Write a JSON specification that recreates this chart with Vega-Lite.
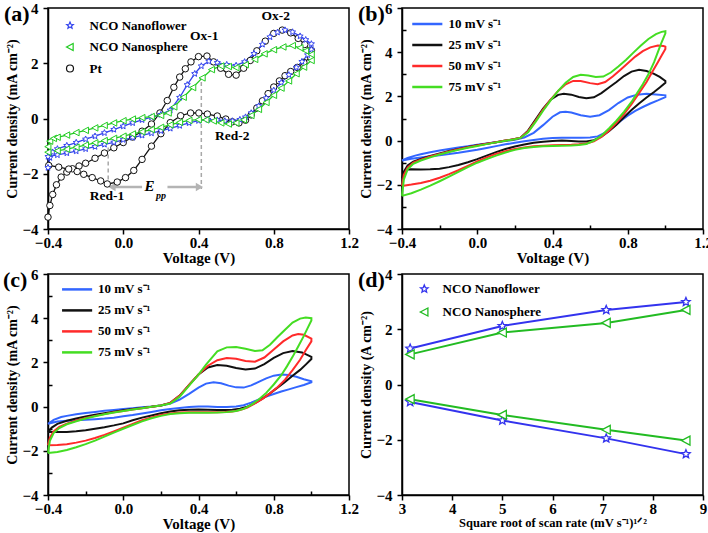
{
"$schema": "https://vega.github.io/schema/vega-lite/v6.json",
"background": "white",
"padding": {"left": 2, "top": 0, "right": 0, "bottom": 0},
"config": {
  "font": "Liberation Serif",
  "view": {"stroke": "black", "strokeWidth": 1.5},
  "axis": {"labelFont": "Liberation Serif", "labelFontSize": 15, "labelFontWeight": "bold", "labelColor": "black", "titleFont": "Liberation Serif", "titleFontSize": 15, "titleFontWeight": "bold", "titleColor": "black", "domainColor": "black", "domainWidth": 1.5, "tickColor": "black", "tickWidth": 1.5, "grid": false, "labelPadding": 1, "labelFlush": false, "labelOverlap": false, "labelBound": false, "titlePadding": 0},
  "axisY": {"labelPadding": 5, "titleFontSize": 14, "titlePadding": 2},
  "legend": {"labelFont": "Liberation Serif", "labelFontSize": 13, "labelFontWeight": "bold", "labelColor": "black"}
},
"resolve": {"scale": {"color": "independent", "shape": "independent"}, "legend": {"color": "independent", "shape": "independent"}},
"datasets": {
"a": [
{"s":"P","v":-0.4,"i":-3.57},{"s":"P","v":-0.39,"i":-3.15},{"s":"P","v":-0.375,"i":-2.75},{"s":"P","v":-0.355,"i":-2.4},{"s":"P","v":-0.33,"i":-2.12},{"s":"P","v":-0.3,"i":-1.94},{"s":"P","v":-0.27,"i":-1.82},{"s":"P","v":-0.235,"i":-1.72},{"s":"P","v":-0.2,"i":-1.62},{"s":"P","v":-0.15,"i":-1.44},{"s":"P","v":-0.1,"i":-1.25},{"s":"P","v":-0.05,"i":-1.06},{"s":"P","v":0,"i":-0.87},{"s":"P","v":0.05,"i":-0.67},{"s":"P","v":0.1,"i":-0.46},{"s":"P","v":0.15,"i":-0.2},{"s":"P","v":0.195,"i":0.2},{"s":"P","v":0.234,"i":0.65},{"s":"P","v":0.269,"i":1.13},{"s":"P","v":0.3,"i":1.5},{"s":"P","v":0.33,"i":1.8},{"s":"P","v":0.36,"i":2.05},{"s":"P","v":0.4,"i":2.24},{"s":"P","v":0.445,"i":2.26},{"s":"P","v":0.48,"i":2.05},{"s":"P","v":0.518,"i":1.82},{"s":"P","v":0.56,"i":1.6},{"s":"P","v":0.6,"i":1.57},{"s":"P","v":0.64,"i":1.82},{"s":"P","v":0.675,"i":2.1},{"s":"P","v":0.71,"i":2.45},{"s":"P","v":0.755,"i":2.8},{"s":"P","v":0.8,"i":3.08},{"s":"P","v":0.845,"i":3.2},{"s":"P","v":0.89,"i":3.1},{"s":"P","v":0.93,"i":2.9},{"s":"P","v":0.965,"i":2.68},{"s":"P","v":1.0,"i":2.46},
{"s":"P","v":0.996,"i":2.22},{"s":"P","v":0.96,"i":2.03},{"s":"P","v":0.925,"i":1.85},{"s":"P","v":0.89,"i":1.7},{"s":"P","v":0.86,"i":1.55},{"s":"P","v":0.83,"i":1.36},{"s":"P","v":0.8,"i":1.14},{"s":"P","v":0.77,"i":0.9},{"s":"P","v":0.74,"i":0.64},{"s":"P","v":0.71,"i":0.38},{"s":"P","v":0.68,"i":0.13},{"s":"P","v":0.65,"i":-0.06},{"s":"P","v":0.615,"i":-0.16},{"s":"P","v":0.58,"i":-0.12},{"s":"P","v":0.545,"i":-0.02},{"s":"P","v":0.5,"i":0.09},{"s":"P","v":0.447,"i":0.16},{"s":"P","v":0.402,"i":0.2},{"s":"P","v":0.358,"i":0.2},{"s":"P","v":0.305,"i":0.1},{"s":"P","v":0.25,"i":-0.15},{"s":"P","v":0.2,"i":-0.55},{"s":"P","v":0.15,"i":-1.0},{"s":"P","v":0.1,"i":-1.48},{"s":"P","v":0.056,"i":-1.88},{"s":"P","v":0.012,"i":-2.14},{"s":"P","v":-0.032,"i":-2.3},{"s":"P","v":-0.085,"i":-2.37},{"s":"P","v":-0.12,"i":-2.26},{"s":"P","v":-0.165,"i":-2.14},{"s":"P","v":-0.21,"i":-2.02},{"s":"P","v":-0.245,"i":-1.92},{"s":"P","v":-0.29,"i":-1.83},{"s":"P","v":-0.343,"i":-1.76},{"s":"P","v":-0.396,"i":-1.7},
{"s":"F","v":-0.4,"i":-1.78},{"s":"F","v":-0.39,"i":-1.42},{"s":"F","v":-0.375,"i":-1.22},{"s":"F","v":-0.35,"i":-1.1},{"s":"F","v":-0.3,"i":-0.98},{"s":"F","v":-0.25,"i":-0.87},{"s":"F","v":-0.2,"i":-0.75},{"s":"F","v":-0.15,"i":-0.64},{"s":"F","v":-0.1,"i":-0.52},{"s":"F","v":-0.05,"i":-0.4},{"s":"F","v":0,"i":-0.28},{"s":"F","v":0.05,"i":-0.16},{"s":"F","v":0.1,"i":-0.05},{"s":"F","v":0.15,"i":0.05},{"s":"F","v":0.2,"i":0.14},{"s":"F","v":0.25,"i":0.3},{"s":"F","v":0.3,"i":0.76},{"s":"F","v":0.34,"i":1.22},{"s":"F","v":0.38,"i":1.62},{"s":"F","v":0.415,"i":1.9},{"s":"F","v":0.455,"i":2.07},{"s":"F","v":0.5,"i":2.02},{"s":"F","v":0.55,"i":1.95},{"s":"F","v":0.6,"i":1.92},{"s":"F","v":0.645,"i":2.05},{"s":"F","v":0.695,"i":2.35},{"s":"F","v":0.74,"i":2.68},{"s":"F","v":0.78,"i":2.95},{"s":"F","v":0.82,"i":3.12},{"s":"F","v":0.86,"i":3.2},{"s":"F","v":0.9,"i":3.13},{"s":"F","v":0.94,"i":2.98},{"s":"F","v":0.97,"i":2.85},{"s":"F","v":1.0,"i":2.7},
{"s":"F","v":1.0,"i":2.5},{"s":"F","v":0.98,"i":2.3},{"s":"F","v":0.95,"i":2.06},{"s":"F","v":0.92,"i":1.85},{"s":"F","v":0.88,"i":1.58},{"s":"F","v":0.84,"i":1.3},{"s":"F","v":0.8,"i":1.02},{"s":"F","v":0.76,"i":0.74},{"s":"F","v":0.72,"i":0.45},{"s":"F","v":0.68,"i":0.2},{"s":"F","v":0.65,"i":0.05},{"s":"F","v":0.62,"i":-0.04},{"s":"F","v":0.58,"i":-0.09},{"s":"F","v":0.54,"i":-0.09},{"s":"F","v":0.5,"i":-0.06},{"s":"F","v":0.45,"i":-0.04},{"s":"F","v":0.4,"i":-0.08},{"s":"F","v":0.35,"i":-0.16},{"s":"F","v":0.3,"i":-0.26},{"s":"F","v":0.25,"i":-0.36},{"s":"F","v":0.2,"i":-0.45},{"s":"F","v":0.15,"i":-0.53},{"s":"F","v":0.1,"i":-0.61},{"s":"F","v":0.05,"i":-0.69},{"s":"F","v":0,"i":-0.77},{"s":"F","v":-0.05,"i":-0.86},{"s":"F","v":-0.1,"i":-0.94},{"s":"F","v":-0.15,"i":-1.02},{"s":"F","v":-0.2,"i":-1.1},{"s":"F","v":-0.25,"i":-1.18},{"s":"F","v":-0.3,"i":-1.25},{"s":"F","v":-0.35,"i":-1.32},{"s":"F","v":-0.4,"i":-1.38},
{"s":"S","v":-0.4,"i":-1.02},{"s":"S","v":-0.39,"i":-0.82},{"s":"S","v":-0.37,"i":-0.72},{"s":"S","v":-0.35,"i":-0.68},{"s":"S","v":-0.3,"i":-0.6},{"s":"S","v":-0.25,"i":-0.51},{"s":"S","v":-0.2,"i":-0.43},{"s":"S","v":-0.15,"i":-0.34},{"s":"S","v":-0.1,"i":-0.25},{"s":"S","v":-0.05,"i":-0.16},{"s":"S","v":0,"i":-0.08},{"s":"S","v":0.05,"i":-0.02},{"s":"S","v":0.1,"i":0.03},{"s":"S","v":0.15,"i":0.07},{"s":"S","v":0.2,"i":0.11},{"s":"S","v":0.24,"i":0.2},{"s":"S","v":0.27,"i":0.42},{"s":"S","v":0.32,"i":0.77},{"s":"S","v":0.37,"i":1.12},{"s":"S","v":0.42,"i":1.47},{"s":"S","v":0.47,"i":1.77},{"s":"S","v":0.52,"i":1.9},{"s":"S","v":0.56,"i":1.88},{"s":"S","v":0.6,"i":1.84},{"s":"S","v":0.65,"i":1.95},{"s":"S","v":0.7,"i":2.14},{"s":"S","v":0.75,"i":2.34},{"s":"S","v":0.8,"i":2.49},{"s":"S","v":0.85,"i":2.59},{"s":"S","v":0.9,"i":2.64},{"s":"S","v":0.94,"i":2.56},{"s":"S","v":0.97,"i":2.45},{"s":"S","v":1.0,"i":2.32},
{"s":"S","v":1.0,"i":2.1},{"s":"S","v":0.96,"i":1.86},{"s":"S","v":0.92,"i":1.62},{"s":"S","v":0.88,"i":1.36},{"s":"S","v":0.84,"i":1.1},{"s":"S","v":0.8,"i":0.84},{"s":"S","v":0.76,"i":0.58},{"s":"S","v":0.72,"i":0.33},{"s":"S","v":0.68,"i":0.11},{"s":"S","v":0.64,"i":-0.05},{"s":"S","v":0.6,"i":-0.16},{"s":"S","v":0.56,"i":-0.2},{"s":"S","v":0.52,"i":-0.16},{"s":"S","v":0.48,"i":-0.09},{"s":"S","v":0.44,"i":-0.05},{"s":"S","v":0.4,"i":-0.04},{"s":"S","v":0.35,"i":-0.07},{"s":"S","v":0.3,"i":-0.14},{"s":"S","v":0.25,"i":-0.23},{"s":"S","v":0.2,"i":-0.32},{"s":"S","v":0.15,"i":-0.4},{"s":"S","v":0.1,"i":-0.48},{"s":"S","v":0.05,"i":-0.56},{"s":"S","v":0,"i":-0.64},{"s":"S","v":-0.05,"i":-0.72},{"s":"S","v":-0.1,"i":-0.8},{"s":"S","v":-0.15,"i":-0.88},{"s":"S","v":-0.2,"i":-0.96},{"s":"S","v":-0.25,"i":-1.04},{"s":"S","v":-0.3,"i":-1.11},{"s":"S","v":-0.35,"i":-1.17},{"s":"S","v":-0.4,"i":-1.22}
],
"b": [
{"s":"10","v":-0.4,"i":-0.9},{"s":"10","v":-0.37,"i":-0.78},{"s":"10","v":-0.33,"i":-0.68},{"s":"10","v":-0.3,"i":-0.62},{"s":"10","v":-0.25,"i":-0.53},{"s":"10","v":-0.2,"i":-0.45},{"s":"10","v":-0.15,"i":-0.38},{"s":"10","v":-0.1,"i":-0.31},{"s":"10","v":-0.05,"i":-0.25},{"s":"10","v":0,"i":-0.19},{"s":"10","v":0.05,"i":-0.13},{"s":"10","v":0.1,"i":-0.07},{"s":"10","v":0.15,"i":-0.02},{"s":"10","v":0.2,"i":0.04},{"s":"10","v":0.25,"i":0.14},{"s":"10","v":0.3,"i":0.35},{"s":"10","v":0.35,"i":0.7},{"s":"10","v":0.4,"i":1.08},{"s":"10","v":0.44,"i":1.28},{"s":"10","v":0.47,"i":1.31},{"s":"10","v":0.5,"i":1.27},{"s":"10","v":0.55,"i":1.15},{"s":"10","v":0.6,"i":1.08},{"s":"10","v":0.65,"i":1.15},{"s":"10","v":0.7,"i":1.38},{"s":"10","v":0.75,"i":1.7},{"s":"10","v":0.8,"i":1.95},{"s":"10","v":0.85,"i":2.08},{"s":"10","v":0.9,"i":2.12},{"s":"10","v":0.95,"i":2.09},{"s":"10","v":1.0,"i":2.05},
{"s":"10","v":1.0,"i":1.97},{"s":"10","v":0.96,"i":1.82},{"s":"10","v":0.92,"i":1.68},{"s":"10","v":0.88,"i":1.52},{"s":"10","v":0.84,"i":1.34},{"s":"10","v":0.8,"i":1.13},{"s":"10","v":0.76,"i":0.88},{"s":"10","v":0.72,"i":0.6},{"s":"10","v":0.68,"i":0.36},{"s":"10","v":0.64,"i":0.19},{"s":"10","v":0.6,"i":0.14},{"s":"10","v":0.55,"i":0.13},{"s":"10","v":0.5,"i":0.13},{"s":"10","v":0.45,"i":0.13},{"s":"10","v":0.4,"i":0.12},{"s":"10","v":0.35,"i":0.08},{"s":"10","v":0.3,"i":0.03},{"s":"10","v":0.25,"i":-0.03},{"s":"10","v":0.2,"i":-0.1},{"s":"10","v":0.15,"i":-0.17},{"s":"10","v":0.1,"i":-0.25},{"s":"10","v":0.05,"i":-0.33},{"s":"10","v":0,"i":-0.41},{"s":"10","v":-0.05,"i":-0.48},{"s":"10","v":-0.1,"i":-0.55},{"s":"10","v":-0.15,"i":-0.61},{"s":"10","v":-0.2,"i":-0.66},{"s":"10","v":-0.25,"i":-0.71},{"s":"10","v":-0.3,"i":-0.76},{"s":"10","v":-0.35,"i":-0.82},{"s":"10","v":-0.4,"i":-0.9},
{"s":"25","v":-0.4,"i":-1.7},{"s":"25","v":-0.39,"i":-1.4},{"s":"25","v":-0.37,"i":-1.12},{"s":"25","v":-0.34,"i":-0.95},{"s":"25","v":-0.3,"i":-0.83},{"s":"25","v":-0.25,"i":-0.7},{"s":"25","v":-0.2,"i":-0.58},{"s":"25","v":-0.15,"i":-0.47},{"s":"25","v":-0.1,"i":-0.38},{"s":"25","v":-0.05,"i":-0.29},{"s":"25","v":0,"i":-0.21},{"s":"25","v":0.05,"i":-0.14},{"s":"25","v":0.1,"i":-0.07},{"s":"25","v":0.15,"i":0.0},{"s":"25","v":0.2,"i":0.07},{"s":"25","v":0.23,"i":0.13},{"s":"25","v":0.27,"i":0.45},{"s":"25","v":0.31,"i":0.95},{"s":"25","v":0.35,"i":1.45},{"s":"25","v":0.39,"i":1.85},{"s":"25","v":0.43,"i":2.07},{"s":"25","v":0.46,"i":2.12},{"s":"25","v":0.5,"i":2.08},{"s":"25","v":0.54,"i":1.97},{"s":"25","v":0.58,"i":1.92},{"s":"25","v":0.62,"i":1.96},{"s":"25","v":0.66,"i":2.15},{"s":"25","v":0.7,"i":2.4},{"s":"25","v":0.74,"i":2.65},{"s":"25","v":0.78,"i":2.92},{"s":"25","v":0.82,"i":3.12},{"s":"25","v":0.86,"i":3.2},{"s":"25","v":0.9,"i":3.15},{"s":"25","v":0.94,"i":3.02},{"s":"25","v":0.97,"i":2.88},{"s":"25","v":1.0,"i":2.7},
{"s":"25","v":1.0,"i":2.62},{"s":"25","v":0.97,"i":2.4},{"s":"25","v":0.94,"i":2.2},{"s":"25","v":0.9,"i":1.95},{"s":"25","v":0.86,"i":1.68},{"s":"25","v":0.82,"i":1.38},{"s":"25","v":0.78,"i":1.06},{"s":"25","v":0.74,"i":0.72},{"s":"25","v":0.7,"i":0.42},{"s":"25","v":0.66,"i":0.18},{"s":"25","v":0.62,"i":0.02},{"s":"25","v":0.58,"i":-0.04},{"s":"25","v":0.54,"i":-0.04},{"s":"25","v":0.5,"i":-0.02},{"s":"25","v":0.45,"i":0.0},{"s":"25","v":0.4,"i":-0.02},{"s":"25","v":0.35,"i":-0.05},{"s":"25","v":0.3,"i":-0.1},{"s":"25","v":0.25,"i":-0.18},{"s":"25","v":0.2,"i":-0.27},{"s":"25","v":0.15,"i":-0.38},{"s":"25","v":0.1,"i":-0.52},{"s":"25","v":0.05,"i":-0.68},{"s":"25","v":0,"i":-0.84},{"s":"25","v":-0.05,"i":-0.98},{"s":"25","v":-0.1,"i":-1.1},{"s":"25","v":-0.15,"i":-1.2},{"s":"25","v":-0.2,"i":-1.27},{"s":"25","v":-0.25,"i":-1.3},{"s":"25","v":-0.3,"i":-1.31},{"s":"25","v":-0.35,"i":-1.3},{"s":"25","v":-0.38,"i":-1.31},{"s":"25","v":-0.4,"i":-1.7},
{"s":"50","v":-0.4,"i":-2.05},{"s":"50","v":-0.39,"i":-1.55},{"s":"50","v":-0.37,"i":-1.22},{"s":"50","v":-0.34,"i":-1.0},{"s":"50","v":-0.3,"i":-0.86},{"s":"50","v":-0.25,"i":-0.72},{"s":"50","v":-0.2,"i":-0.6},{"s":"50","v":-0.15,"i":-0.49},{"s":"50","v":-0.1,"i":-0.39},{"s":"50","v":-0.05,"i":-0.3},{"s":"50","v":0,"i":-0.22},{"s":"50","v":0.05,"i":-0.14},{"s":"50","v":0.1,"i":-0.07},{"s":"50","v":0.15,"i":0.0},{"s":"50","v":0.2,"i":0.07},{"s":"50","v":0.23,"i":0.13},{"s":"50","v":0.27,"i":0.42},{"s":"50","v":0.31,"i":0.9},{"s":"50","v":0.35,"i":1.4},{"s":"50","v":0.39,"i":1.85},{"s":"50","v":0.43,"i":2.25},{"s":"50","v":0.47,"i":2.55},{"s":"50","v":0.51,"i":2.7},{"s":"50","v":0.55,"i":2.7},{"s":"50","v":0.6,"i":2.6},{"s":"50","v":0.64,"i":2.55},{"s":"50","v":0.68,"i":2.65},{"s":"50","v":0.72,"i":2.9},{"s":"50","v":0.76,"i":3.2},{"s":"50","v":0.8,"i":3.5},{"s":"50","v":0.84,"i":3.8},{"s":"50","v":0.88,"i":4.05},{"s":"50","v":0.92,"i":4.22},{"s":"50","v":0.96,"i":4.3},{"s":"50","v":0.99,"i":4.28},{"s":"50","v":1.0,"i":4.25},
{"s":"50","v":1.0,"i":4.15},{"s":"50","v":0.98,"i":3.85},{"s":"50","v":0.96,"i":3.55},{"s":"50","v":0.93,"i":3.1},{"s":"50","v":0.9,"i":2.65},{"s":"50","v":0.86,"i":2.15},{"s":"50","v":0.82,"i":1.65},{"s":"50","v":0.78,"i":1.2},{"s":"50","v":0.74,"i":0.8},{"s":"50","v":0.7,"i":0.45},{"s":"50","v":0.66,"i":0.17},{"s":"50","v":0.62,"i":-0.03},{"s":"50","v":0.58,"i":-0.13},{"s":"50","v":0.54,"i":-0.17},{"s":"50","v":0.5,"i":-0.19},{"s":"50","v":0.45,"i":-0.2},{"s":"50","v":0.4,"i":-0.21},{"s":"50","v":0.35,"i":-0.23},{"s":"50","v":0.3,"i":-0.26},{"s":"50","v":0.25,"i":-0.31},{"s":"50","v":0.2,"i":-0.38},{"s":"50","v":0.15,"i":-0.48},{"s":"50","v":0.1,"i":-0.6},{"s":"50","v":0.05,"i":-0.76},{"s":"50","v":0,"i":-0.94},{"s":"50","v":-0.05,"i":-1.14},{"s":"50","v":-0.1,"i":-1.34},{"s":"50","v":-0.15,"i":-1.52},{"s":"50","v":-0.2,"i":-1.68},{"s":"50","v":-0.25,"i":-1.82},{"s":"50","v":-0.3,"i":-1.92},{"s":"50","v":-0.35,"i":-1.99},{"s":"50","v":-0.4,"i":-2.05},
{"s":"75","v":-0.4,"i":-2.5},{"s":"75","v":-0.39,"i":-1.75},{"s":"75","v":-0.37,"i":-1.3},{"s":"75","v":-0.34,"i":-1.05},{"s":"75","v":-0.3,"i":-0.9},{"s":"75","v":-0.25,"i":-0.76},{"s":"75","v":-0.2,"i":-0.63},{"s":"75","v":-0.15,"i":-0.52},{"s":"75","v":-0.1,"i":-0.42},{"s":"75","v":-0.05,"i":-0.32},{"s":"75","v":0,"i":-0.24},{"s":"75","v":0.05,"i":-0.16},{"s":"75","v":0.1,"i":-0.08},{"s":"75","v":0.15,"i":-0.01},{"s":"75","v":0.2,"i":0.06},{"s":"75","v":0.23,"i":0.12},{"s":"75","v":0.27,"i":0.38},{"s":"75","v":0.31,"i":0.85},{"s":"75","v":0.35,"i":1.35},{"s":"75","v":0.39,"i":1.82},{"s":"75","v":0.43,"i":2.25},{"s":"75","v":0.47,"i":2.62},{"s":"75","v":0.51,"i":2.88},{"s":"75","v":0.55,"i":2.98},{"s":"75","v":0.59,"i":2.95},{"s":"75","v":0.63,"i":2.88},{"s":"75","v":0.67,"i":2.9},{"s":"75","v":0.71,"i":3.08},{"s":"75","v":0.75,"i":3.35},{"s":"75","v":0.79,"i":3.65},{"s":"75","v":0.83,"i":3.98},{"s":"75","v":0.87,"i":4.3},{"s":"75","v":0.91,"i":4.6},{"s":"75","v":0.95,"i":4.82},{"s":"75","v":0.98,"i":4.92},{"s":"75","v":1.0,"i":4.95},
{"s":"75","v":1.0,"i":4.85},{"s":"75","v":0.98,"i":4.45},{"s":"75","v":0.96,"i":4.0},{"s":"75","v":0.94,"i":3.55},{"s":"75","v":0.91,"i":3.0},{"s":"75","v":0.88,"i":2.55},{"s":"75","v":0.85,"i":2.15},{"s":"75","v":0.82,"i":1.75},{"s":"75","v":0.78,"i":1.3},{"s":"75","v":0.74,"i":0.9},{"s":"75","v":0.7,"i":0.55},{"s":"75","v":0.66,"i":0.22},{"s":"75","v":0.62,"i":0.0},{"s":"75","v":0.58,"i":-0.15},{"s":"75","v":0.54,"i":-0.2},{"s":"75","v":0.5,"i":-0.22},{"s":"75","v":0.45,"i":-0.23},{"s":"75","v":0.4,"i":-0.24},{"s":"75","v":0.35,"i":-0.26},{"s":"75","v":0.3,"i":-0.29},{"s":"75","v":0.25,"i":-0.34},{"s":"75","v":0.2,"i":-0.42},{"s":"75","v":0.15,"i":-0.54},{"s":"75","v":0.1,"i":-0.68},{"s":"75","v":0.05,"i":-0.84},{"s":"75","v":0,"i":-1.0},{"s":"75","v":-0.05,"i":-1.2},{"s":"75","v":-0.1,"i":-1.42},{"s":"75","v":-0.15,"i":-1.63},{"s":"75","v":-0.2,"i":-1.84},{"s":"75","v":-0.25,"i":-2.04},{"s":"75","v":-0.3,"i":-2.22},{"s":"75","v":-0.35,"i":-2.38},{"s":"75","v":-0.4,"i":-2.5}
],
"c": [
{"s":"10","v":-0.4,"i":-0.78},{"s":"10","v":-0.37,"i":-0.6},{"s":"10","v":-0.33,"i":-0.47},{"s":"10","v":-0.3,"i":-0.42},{"s":"10","v":-0.25,"i":-0.35},{"s":"10","v":-0.2,"i":-0.29},{"s":"10","v":-0.15,"i":-0.24},{"s":"10","v":-0.1,"i":-0.19},{"s":"10","v":-0.05,"i":-0.15},{"s":"10","v":0,"i":-0.11},{"s":"10","v":0.05,"i":-0.07},{"s":"10","v":0.1,"i":-0.03},{"s":"10","v":0.15,"i":0.0},{"s":"10","v":0.2,"i":0.05},{"s":"10","v":0.25,"i":0.14},{"s":"10","v":0.3,"i":0.32},{"s":"10","v":0.35,"i":0.58},{"s":"10","v":0.4,"i":0.86},{"s":"10","v":0.44,"i":1.04},{"s":"10","v":0.48,"i":1.1},{"s":"10","v":0.52,"i":1.06},{"s":"10","v":0.56,"i":0.95},{"s":"10","v":0.6,"i":0.87},{"s":"10","v":0.64,"i":0.86},{"s":"10","v":0.68,"i":0.96},{"s":"10","v":0.72,"i":1.12},{"s":"10","v":0.76,"i":1.28},{"s":"10","v":0.8,"i":1.4},{"s":"10","v":0.84,"i":1.45},{"s":"10","v":0.88,"i":1.43},{"s":"10","v":0.92,"i":1.35},{"s":"10","v":0.96,"i":1.24},{"s":"10","v":1.0,"i":1.15},
{"s":"10","v":1.0,"i":1.1},{"s":"10","v":0.96,"i":0.98},{"s":"10","v":0.92,"i":0.88},{"s":"10","v":0.88,"i":0.78},{"s":"10","v":0.84,"i":0.68},{"s":"10","v":0.8,"i":0.57},{"s":"10","v":0.76,"i":0.45},{"s":"10","v":0.72,"i":0.32},{"s":"10","v":0.68,"i":0.18},{"s":"10","v":0.64,"i":0.06},{"s":"10","v":0.6,"i":0.0},{"s":"10","v":0.55,"i":-0.02},{"s":"10","v":0.5,"i":-0.02},{"s":"10","v":0.45,"i":0.0},{"s":"10","v":0.4,"i":0.0},{"s":"10","v":0.35,"i":-0.02},{"s":"10","v":0.3,"i":-0.06},{"s":"10","v":0.25,"i":-0.11},{"s":"10","v":0.2,"i":-0.17},{"s":"10","v":0.15,"i":-0.24},{"s":"10","v":0.1,"i":-0.31},{"s":"10","v":0.05,"i":-0.38},{"s":"10","v":0,"i":-0.44},{"s":"10","v":-0.05,"i":-0.5},{"s":"10","v":-0.1,"i":-0.54},{"s":"10","v":-0.15,"i":-0.57},{"s":"10","v":-0.2,"i":-0.6},{"s":"10","v":-0.25,"i":-0.62},{"s":"10","v":-0.3,"i":-0.64},{"s":"10","v":-0.35,"i":-0.67},{"s":"10","v":-0.4,"i":-0.78},
{"s":"25","v":-0.4,"i":-1.15},{"s":"25","v":-0.38,"i":-0.95},{"s":"25","v":-0.35,"i":-0.78},{"s":"25","v":-0.3,"i":-0.64},{"s":"25","v":-0.25,"i":-0.54},{"s":"25","v":-0.2,"i":-0.45},{"s":"25","v":-0.15,"i":-0.37},{"s":"25","v":-0.1,"i":-0.3},{"s":"25","v":-0.05,"i":-0.23},{"s":"25","v":0,"i":-0.17},{"s":"25","v":0.05,"i":-0.11},{"s":"25","v":0.1,"i":-0.06},{"s":"25","v":0.15,"i":-0.01},{"s":"25","v":0.2,"i":0.05},{"s":"25","v":0.25,"i":0.17},{"s":"25","v":0.3,"i":0.5},{"s":"25","v":0.35,"i":0.98},{"s":"25","v":0.4,"i":1.45},{"s":"25","v":0.45,"i":1.77},{"s":"25","v":0.5,"i":1.88},{"s":"25","v":0.55,"i":1.85},{"s":"25","v":0.6,"i":1.75},{"s":"25","v":0.65,"i":1.68},{"s":"25","v":0.7,"i":1.72},{"s":"25","v":0.75,"i":1.92},{"s":"25","v":0.8,"i":2.2},{"s":"25","v":0.85,"i":2.42},{"s":"25","v":0.9,"i":2.52},{"s":"25","v":0.95,"i":2.45},{"s":"25","v":1.0,"i":2.25},
{"s":"25","v":1.0,"i":2.15},{"s":"25","v":0.97,"i":1.9},{"s":"25","v":0.94,"i":1.66},{"s":"25","v":0.9,"i":1.4},{"s":"25","v":0.86,"i":1.12},{"s":"25","v":0.82,"i":0.86},{"s":"25","v":0.78,"i":0.6},{"s":"25","v":0.74,"i":0.36},{"s":"25","v":0.7,"i":0.16},{"s":"25","v":0.66,"i":0.0},{"s":"25","v":0.62,"i":-0.1},{"s":"25","v":0.58,"i":-0.14},{"s":"25","v":0.54,"i":-0.15},{"s":"25","v":0.5,"i":-0.15},{"s":"25","v":0.45,"i":-0.14},{"s":"25","v":0.4,"i":-0.13},{"s":"25","v":0.35,"i":-0.14},{"s":"25","v":0.3,"i":-0.17},{"s":"25","v":0.25,"i":-0.22},{"s":"25","v":0.2,"i":-0.3},{"s":"25","v":0.15,"i":-0.4},{"s":"25","v":0.1,"i":-0.5},{"s":"25","v":0.05,"i":-0.62},{"s":"25","v":0,"i":-0.76},{"s":"25","v":-0.05,"i":-0.85},{"s":"25","v":-0.1,"i":-0.93},{"s":"25","v":-0.15,"i":-1.0},{"s":"25","v":-0.2,"i":-1.07},{"s":"25","v":-0.25,"i":-1.12},{"s":"25","v":-0.3,"i":-1.15},{"s":"25","v":-0.35,"i":-1.15},{"s":"25","v":-0.4,"i":-1.15},
{"s":"50","v":-0.4,"i":-1.75},{"s":"50","v":-0.39,"i":-1.4},{"s":"50","v":-0.37,"i":-1.12},{"s":"50","v":-0.34,"i":-0.92},{"s":"50","v":-0.3,"i":-0.77},{"s":"50","v":-0.25,"i":-0.63},{"s":"50","v":-0.2,"i":-0.52},{"s":"50","v":-0.15,"i":-0.42},{"s":"50","v":-0.1,"i":-0.34},{"s":"50","v":-0.05,"i":-0.26},{"s":"50","v":0,"i":-0.2},{"s":"50","v":0.05,"i":-0.13},{"s":"50","v":0.1,"i":-0.07},{"s":"50","v":0.15,"i":-0.01},{"s":"50","v":0.2,"i":0.05},{"s":"50","v":0.25,"i":0.17},{"s":"50","v":0.3,"i":0.5},{"s":"50","v":0.35,"i":0.98},{"s":"50","v":0.4,"i":1.45},{"s":"50","v":0.45,"i":1.85},{"s":"50","v":0.5,"i":2.1},{"s":"50","v":0.55,"i":2.2},{"s":"50","v":0.6,"i":2.16},{"s":"50","v":0.65,"i":2.06},{"s":"50","v":0.7,"i":2.03},{"s":"50","v":0.75,"i":2.22},{"s":"50","v":0.8,"i":2.58},{"s":"50","v":0.85,"i":2.95},{"s":"50","v":0.9,"i":3.22},{"s":"50","v":0.93,"i":3.28},{"s":"50","v":0.96,"i":3.25},{"s":"50","v":1.0,"i":3.08},
{"s":"50","v":1.0,"i":2.95},{"s":"50","v":0.97,"i":2.55},{"s":"50","v":0.94,"i":2.12},{"s":"50","v":0.9,"i":1.65},{"s":"50","v":0.86,"i":1.22},{"s":"50","v":0.82,"i":0.88},{"s":"50","v":0.78,"i":0.6},{"s":"50","v":0.74,"i":0.35},{"s":"50","v":0.7,"i":0.14},{"s":"50","v":0.66,"i":-0.04},{"s":"50","v":0.62,"i":-0.16},{"s":"50","v":0.58,"i":-0.22},{"s":"50","v":0.54,"i":-0.24},{"s":"50","v":0.5,"i":-0.25},{"s":"50","v":0.45,"i":-0.25},{"s":"50","v":0.4,"i":-0.25},{"s":"50","v":0.35,"i":-0.25},{"s":"50","v":0.3,"i":-0.27},{"s":"50","v":0.25,"i":-0.31},{"s":"50","v":0.2,"i":-0.38},{"s":"50","v":0.15,"i":-0.49},{"s":"50","v":0.1,"i":-0.62},{"s":"50","v":0.05,"i":-0.78},{"s":"50","v":0,"i":-0.95},{"s":"50","v":-0.05,"i":-1.12},{"s":"50","v":-0.1,"i":-1.28},{"s":"50","v":-0.15,"i":-1.42},{"s":"50","v":-0.2,"i":-1.54},{"s":"50","v":-0.25,"i":-1.63},{"s":"50","v":-0.3,"i":-1.7},{"s":"50","v":-0.35,"i":-1.74},{"s":"50","v":-0.4,"i":-1.75},
{"s":"75","v":-0.4,"i":-2.1},{"s":"75","v":-0.39,"i":-1.55},{"s":"75","v":-0.37,"i":-1.2},{"s":"75","v":-0.34,"i":-0.97},{"s":"75","v":-0.3,"i":-0.8},{"s":"75","v":-0.25,"i":-0.66},{"s":"75","v":-0.2,"i":-0.54},{"s":"75","v":-0.15,"i":-0.44},{"s":"75","v":-0.1,"i":-0.35},{"s":"75","v":-0.05,"i":-0.27},{"s":"75","v":0,"i":-0.2},{"s":"75","v":0.05,"i":-0.13},{"s":"75","v":0.1,"i":-0.07},{"s":"75","v":0.15,"i":-0.01},{"s":"75","v":0.2,"i":0.05},{"s":"75","v":0.25,"i":0.14},{"s":"75","v":0.3,"i":0.45},{"s":"75","v":0.35,"i":0.95},{"s":"75","v":0.4,"i":1.45},{"s":"75","v":0.44,"i":1.9},{"s":"75","v":0.45,"i":2.0},{"s":"75","v":0.5,"i":2.5},{"s":"75","v":0.55,"i":2.68},{"s":"75","v":0.6,"i":2.7},{"s":"75","v":0.65,"i":2.62},{"s":"75","v":0.7,"i":2.52},{"s":"75","v":0.74,"i":2.55},{"s":"75","v":0.78,"i":2.8},{"s":"75","v":0.82,"i":3.15},{"s":"75","v":0.86,"i":3.48},{"s":"75","v":0.9,"i":3.8},{"s":"75","v":0.94,"i":3.98},{"s":"75","v":0.97,"i":4.03},{"s":"75","v":1.0,"i":4.0},
{"s":"75","v":1.0,"i":3.9},{"s":"75","v":0.98,"i":3.55},{"s":"75","v":0.96,"i":3.2},{"s":"75","v":0.93,"i":2.72},{"s":"75","v":0.9,"i":2.25},{"s":"75","v":0.87,"i":1.82},{"s":"75","v":0.84,"i":1.42},{"s":"75","v":0.8,"i":1.0},{"s":"75","v":0.76,"i":0.62},{"s":"75","v":0.72,"i":0.32},{"s":"75","v":0.68,"i":0.08},{"s":"75","v":0.64,"i":-0.1},{"s":"75","v":0.6,"i":-0.2},{"s":"75","v":0.55,"i":-0.25},{"s":"75","v":0.5,"i":-0.27},{"s":"75","v":0.45,"i":-0.28},{"s":"75","v":0.4,"i":-0.28},{"s":"75","v":0.35,"i":-0.28},{"s":"75","v":0.3,"i":-0.3},{"s":"75","v":0.25,"i":-0.34},{"s":"75","v":0.2,"i":-0.42},{"s":"75","v":0.15,"i":-0.53},{"s":"75","v":0.1,"i":-0.67},{"s":"75","v":0.05,"i":-0.83},{"s":"75","v":0,"i":-1.0},{"s":"75","v":-0.05,"i":-1.18},{"s":"75","v":-0.1,"i":-1.36},{"s":"75","v":-0.15,"i":-1.54},{"s":"75","v":-0.2,"i":-1.7},{"s":"75","v":-0.25,"i":-1.84},{"s":"75","v":-0.3,"i":-1.96},{"s":"75","v":-0.35,"i":-2.05},{"s":"75","v":-0.4,"i":-2.1}
],
"d": [
{"s":"F","g":"u","x":3.162,"i":1.3},{"s":"F","g":"u","x":5,"i":2.12},{"s":"F","g":"u","x":7.071,"i":2.7},{"s":"F","g":"u","x":8.66,"i":2.99},
{"s":"F","g":"l","x":3.162,"i":-0.63},{"s":"F","g":"l","x":5,"i":-1.3},{"s":"F","g":"l","x":7.071,"i":-1.95},{"s":"F","g":"l","x":8.66,"i":-2.52},
{"s":"S","g":"u","x":3.162,"i":1.09},{"s":"S","g":"u","x":5,"i":1.88},{"s":"S","g":"u","x":7.071,"i":2.23},{"s":"S","g":"u","x":8.66,"i":2.7},
{"s":"S","g":"l","x":3.162,"i":-0.53},{"s":"S","g":"l","x":5,"i":-1.1},{"s":"S","g":"l","x":7.071,"i":-1.64},{"s":"S","g":"l","x":8.66,"i":-2.03}
]
},
"concat": [
{
 "width": 301, "height": 221,
 "title": {"text": "(a)", "anchor": "start", "frame": "group", "dx": -44, "dy": 42, "baseline": "alphabetic", "offset": 0, "fontSize": 22, "font": "Liberation Serif", "fontWeight": "bold", "color": "black"},
 "layer": [
  {"data": {"name": "a"},
   "transform": [{"window": [{"op": "row_number", "as": "k"}]}],
   "mark": {"type": "line", "strokeWidth": 1.3},
   "encoding": {
     "x": {"field": "v", "type": "quantitative", "scale": {"domain": [-0.4, 1.2], "nice": false}, "title": "Voltage (V)",
       "axis": {"values": [-0.4, -0.2, 0, 0.2, 0.4, 0.6, 0.8, 1, 1.2], "format": ".1f",
         "labelExpr": "abs(datum.value*2.5 - round(datum.value*2.5)) < 0.01 ? datum.label : ''",
         "tickSize": {"condition": {"test": "abs(datum.value*2.5 - round(datum.value*2.5)) < 0.01", "value": 5}, "value": -4}}},
     "y": {"field": "i", "type": "quantitative", "scale": {"domain": [-4, 4], "nice": false}, "title": "Current density (mA cm⁻²)",
       "axis": {"values": [-4, -3, -2, -1, 0, 1, 2, 3, 4],
         "labelExpr": "datum.value % 2 == 0 ? datum.label : ''",
         "tickSize": {"condition": {"test": "datum.value % 2 == 0", "value": 5}, "value": -4}}},
     "color": {"field": "s", "type": "nominal", "scale": {"domain": ["F", "S", "P"], "range": ["#3344ee", "#22cc22", "#111111"]}},
     "order": {"field": "k", "type": "quantitative"}
   }},
  {"data": {"values": [{"v": -0.08, "i": -1.05, "i2": -2.38}, {"v": 0.415, "i": 1.32, "i2": -2.55}]},
   "mark": {"type": "rule", "color": "#a8a8a8", "strokeWidth": 1.5, "strokeDash": [4, 3]},
   "encoding": {"x": {"field": "v", "type": "quantitative"}, "y": {"field": "i", "type": "quantitative"}, "y2": {"field": "i2"}}},
  {"data": {"values": [{"v": -0.05, "v2": 0.1, "i": -2.48}, {"v": 0.235, "v2": 0.395, "i": -2.48}]},
   "mark": {"type": "rule", "color": "#b4b4b4", "strokeWidth": 2.5},
   "encoding": {"x": {"field": "v", "type": "quantitative"}, "x2": {"field": "v2"}, "y": {"field": "i", "type": "quantitative"}}},
  {"data": {"values": [{"v": -0.06, "i": -2.48}]},
   "mark": {"type": "point", "shape": "triangle-left", "filled": true, "color": "#b4b4b4", "opacity": 1, "size": 70},
   "encoding": {"x": {"field": "v", "type": "quantitative"}, "y": {"field": "i", "type": "quantitative"}}},
  {"data": {"values": [{"v": 0.405, "i": -2.48}]},
   "mark": {"type": "point", "shape": "triangle-right", "filled": true, "color": "#b4b4b4", "opacity": 1, "size": 70},
   "encoding": {"x": {"field": "v", "type": "quantitative"}, "y": {"field": "i", "type": "quantitative"}}},
  {"data": {"name": "a"},
   "mark": {"type": "point", "filled": false, "fill": "white", "strokeWidth": 1, "opacity": 1, "size": 42},
   "encoding": {
     "x": {"field": "v", "type": "quantitative"},
     "y": {"field": "i", "type": "quantitative"},
     "color": {"field": "s", "type": "nominal", "scale": {"domain": ["F", "S", "P"], "range": ["#3344ee", "#22cc22", "#111111"]},
       "legend": {"orient": "none", "legendX": 15.5, "legendY": 11, "title": null, "padding": 0, "symbolSize": 49, "symbolStrokeWidth": 1.2, "labelOffset": 13, "rowPadding": 7.5,
         "labelExpr": "datum.label == 'F' ? 'NCO Nanoflower' : datum.label == 'S' ? 'NCO Nanosphere' : 'Pt'",
         "encode": {"symbols": {"fill": {"value": "white"}, "opacity": {"value": 1}}}}},
     "shape": {"field": "s", "type": "nominal", "scale": {"domain": ["F", "S", "P"], "range": ["M0,-1L0.265,-0.364L0.951,-0.309L0.428,0.139L0.588,0.809L0,0.45L-0.588,0.809L-0.428,0.139L-0.951,-0.309L-0.265,-0.364Z", "M-1,0L0.9,-1L0.9,1Z", "circle"]}}
   }},
  {"data": {"values": [{"t": "Ox-1", "v": 0.43, "i": 3.0}, {"t": "Ox-2", "v": 0.81, "i": 3.72}, {"t": "Red-1", "v": -0.086, "i": -2.8}, {"t": "Red-2", "v": 0.58, "i": -0.62}]},
   "mark": {"type": "text", "font": "Liberation Serif", "fontWeight": "bold", "fontSize": 13.5, "color": "black"},
   "encoding": {"x": {"field": "v", "type": "quantitative"}, "y": {"field": "i", "type": "quantitative"}, "text": {"field": "t"}}},
  {"data": {"values": [{"t": "E", "v": 0.14, "i": -2.46}]},
   "mark": {"type": "text", "font": "Liberation Serif", "fontWeight": "bold", "fontStyle": "italic", "fontSize": 15, "color": "black"},
   "encoding": {"x": {"field": "v", "type": "quantitative"}, "y": {"field": "i", "type": "quantitative"}, "text": {"field": "t"}}},
  {"data": {"values": [{"t": "pp", "v": 0.2, "i": -2.8}]},
   "mark": {"type": "text", "font": "Liberation Serif", "fontWeight": "bold", "fontStyle": "italic", "fontSize": 10, "color": "black"},
   "encoding": {"x": {"field": "v", "type": "quantitative"}, "y": {"field": "i", "type": "quantitative"}, "text": {"field": "t"}}}
 ]
},
{
 "width": 301, "height": 221,
 "title": {"text": "(b)", "anchor": "start", "frame": "group", "dx": -44, "dy": 42, "baseline": "alphabetic", "offset": 0, "fontSize": 22, "font": "Liberation Serif", "fontWeight": "bold", "color": "black"},
 "data": {"name": "b"},
 "transform": [{"window": [{"op": "row_number", "as": "k"}]}],
 "mark": {"type": "line", "strokeWidth": 2},
 "encoding": {
   "x": {"field": "v", "type": "quantitative", "scale": {"domain": [-0.4, 1.2], "nice": false}, "title": "Voltage (V)",
     "axis": {"values": [-0.4, -0.2, 0, 0.2, 0.4, 0.6, 0.8, 1, 1.2], "format": ".1f",
       "labelExpr": "abs(datum.value*2.5 - round(datum.value*2.5)) < 0.01 ? datum.label : ''",
       "tickSize": {"condition": {"test": "abs(datum.value*2.5 - round(datum.value*2.5)) < 0.01", "value": 5}, "value": -4}}},
   "y": {"field": "i", "type": "quantitative", "scale": {"domain": [-4, 6], "nice": false}, "title": "Current density (mA cm⁻²)",
     "axis": {"values": [-4, -3, -2, -1, 0, 1, 2, 3, 4, 5, 6],
       "labelExpr": "datum.value % 2 == 0 ? datum.label : ''",
       "tickSize": {"condition": {"test": "datum.value % 2 == 0", "value": 5}, "value": -4}}},
   "color": {"field": "s", "type": "nominal", "scale": {"domain": ["10", "25", "50", "75"], "range": ["#3366ff", "#111111", "#ff2a2a", "#44dd22"]},
     "legend": {"orient": "none", "legendX": 18.8, "legendY": 9.5, "title": null, "padding": 0, "symbolType": "M-4.3,0H4.3", "symbolSize": 49, "symbolStrokeWidth": 2.5, "labelOffset": 14.8, "rowPadding": 7.0,
       "labelExpr": "datum.label + ' mV s⁻¹'"}},
   "order": {"field": "k", "type": "quantitative"}
 }
},
{
 "width": 301, "height": 221,
 "title": {"text": "(c)", "anchor": "start", "frame": "group", "dx": -45, "dy": 42, "baseline": "alphabetic", "offset": 0, "fontSize": 22, "font": "Liberation Serif", "fontWeight": "bold", "color": "black"},
 "data": {"name": "c"},
 "transform": [{"window": [{"op": "row_number", "as": "k"}]}],
 "mark": {"type": "line", "strokeWidth": 2},
 "encoding": {
   "x": {"field": "v", "type": "quantitative", "scale": {"domain": [-0.4, 1.2], "nice": false}, "title": "Voltage (V)",
     "axis": {"values": [-0.4, -0.2, 0, 0.2, 0.4, 0.6, 0.8, 1, 1.2], "format": ".1f",
       "labelExpr": "abs(datum.value*2.5 - round(datum.value*2.5)) < 0.01 ? datum.label : ''",
       "tickSize": {"condition": {"test": "abs(datum.value*2.5 - round(datum.value*2.5)) < 0.01", "value": 5}, "value": -4}}},
   "y": {"field": "i", "type": "quantitative", "scale": {"domain": [-4, 6], "nice": false}, "title": "Current density (mA cm⁻²)",
     "axis": {"values": [-4, -3, -2, -1, 0, 1, 2, 3, 4, 5, 6],
       "labelExpr": "datum.value % 2 == 0 ? datum.label : ''",
       "tickSize": {"condition": {"test": "datum.value % 2 == 0", "value": 5}, "value": -4}}},
   "color": {"field": "s", "type": "nominal", "scale": {"domain": ["10", "25", "50", "75"], "range": ["#3366ff", "#111111", "#ff2a2a", "#44dd22"]},
     "legend": {"orient": "none", "legendX": 22.6, "legendY": 8.9, "title": null, "padding": 0, "symbolType": "M-4.3,0H4.3", "symbolSize": 49, "symbolStrokeWidth": 2.5, "labelOffset": 14.4, "rowPadding": 7.0,
       "labelExpr": "datum.label + ' mV s⁻¹'"}},
   "order": {"field": "k", "type": "quantitative"}
 }
},
{
 "width": 301, "height": 221,
 "title": {"text": "(d)", "anchor": "start", "frame": "group", "dx": -44, "dy": 42, "baseline": "alphabetic", "offset": 0, "fontSize": 22, "font": "Liberation Serif", "fontWeight": "bold", "color": "black"},
 "data": {"name": "d"},
 "layer": [
  {"mark": {"type": "line", "strokeWidth": 2},
   "encoding": {
     "x": {"field": "x", "type": "quantitative", "scale": {"domain": [3, 9], "nice": false}, "title": "Square root of scan rate (mV s⁻¹)¹ᐟ²",
       "axis": {"values": [3, 3.5, 4, 4.5, 5, 5.5, 6, 6.5, 7, 7.5, 8, 8.5, 9], "format": "d", "titleFontSize": 12.5,
         "labelExpr": "datum.value % 1 == 0 ? datum.label : ''",
         "tickSize": {"condition": {"test": "datum.value % 1 == 0", "value": 5}, "value": -4}}},
     "y": {"field": "i", "type": "quantitative", "scale": {"domain": [-4, 4], "nice": false}, "title": "Current density (A cm⁻²)",
       "axis": {"values": [-4, -3, -2, -1, 0, 1, 2, 3, 4],
         "labelExpr": "datum.value % 2 == 0 ? datum.label : ''",
         "tickSize": {"condition": {"test": "datum.value % 2 == 0", "value": 5}, "value": -4}}},
     "color": {"field": "s", "type": "nominal", "scale": {"domain": ["F", "S"], "range": ["#3333ee", "#22bb22"]}},
     "detail": {"field": "g"}
   }},
  {"mark": {"type": "point", "filled": false, "fill": "white", "strokeWidth": 1.3, "opacity": 1, "size": 80},
   "encoding": {
     "x": {"field": "x", "type": "quantitative"},
     "y": {"field": "i", "type": "quantitative"},
     "color": {"field": "s", "type": "nominal", "scale": {"domain": ["F", "S"], "range": ["#3333ee", "#22bb22"]},
       "legend": {"orient": "none", "legendX": 15.8, "legendY": 8.5, "title": null, "padding": 0, "symbolSize": 64, "symbolStrokeWidth": 1.3, "labelOffset": 11.8, "rowPadding": 8,
         "labelExpr": "datum.label == 'F' ? 'NCO Nanoflower' : 'NCO Nanosphere'",
         "encode": {"symbols": {"fill": {"value": "white"}, "opacity": {"value": 1}}}}},
     "shape": {"field": "s", "type": "nominal", "scale": {"domain": ["F", "S"], "range": ["M0,-1L0.265,-0.364L0.951,-0.309L0.428,0.139L0.588,0.809L0,0.45L-0.588,0.809L-0.428,0.139L-0.951,-0.309L-0.265,-0.364Z", "M-1,0L0.9,-1L0.9,1Z"]}}
   }}
 ]
}
],
"columns": 2,
"spacing": {"row": 45, "column": 53},
"bounds": "flush"
}
